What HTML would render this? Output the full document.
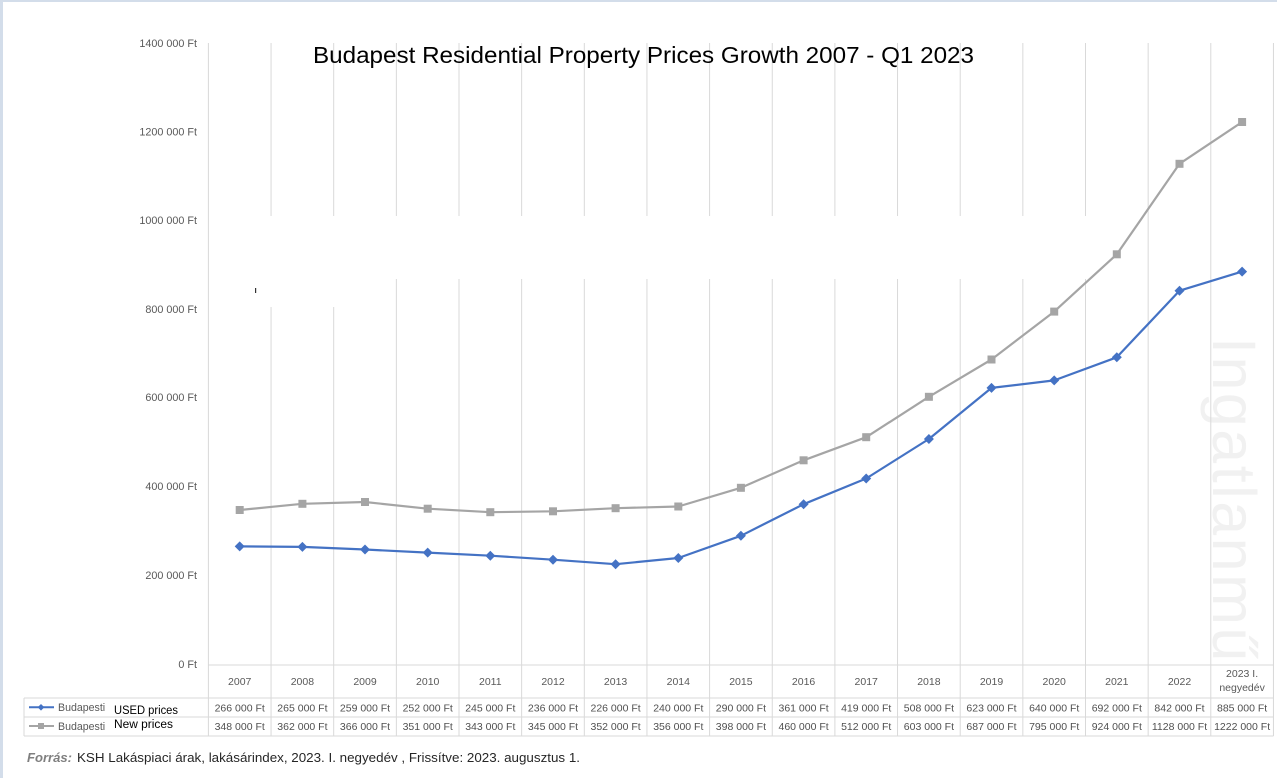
<!DOCTYPE html>
<html>
<head>
<meta charset="utf-8">
<style>
html,body{margin:0;padding:0;background:#fff;}
svg{display:block;}
text{font-family:"Liberation Sans",Arial,sans-serif;}
</style>
</head>
<body>
<svg width="1277" height="778" viewBox="0 0 1277 778" xmlns="http://www.w3.org/2000/svg">
<rect x="0" y="0" width="1277" height="778" fill="#fff"/>
<!-- page border strips -->
<rect x="0" y="0" width="3" height="778" fill="#d3ddea"/>
<rect x="0" y="0" width="1277" height="2" fill="#d3ddea"/>

<!-- watermark -->
<defs><clipPath id="wm"><rect x="1150" y="300" width="127" height="365"/></clipPath></defs>
<g clip-path="url(#wm)">
<text transform="translate(1213,337) rotate(90)" font-size="61" fill="#f1f1f1" letter-spacing="2.5">Ingatlanműhely</text>
</g>

<!-- vertical gridlines -->
<g stroke="#d9d9d9" stroke-width="1">
<line x1="208.4" y1="43" x2="208.4" y2="736"/>
<line x1="271.05" y1="43" x2="271.05" y2="736"/>
<line x1="333.7" y1="43" x2="333.7" y2="736"/>
<line x1="396.35" y1="43" x2="396.35" y2="736"/>
<line x1="459" y1="43" x2="459" y2="736"/>
<line x1="521.65" y1="43" x2="521.65" y2="736"/>
<line x1="584.3" y1="43" x2="584.3" y2="736"/>
<line x1="646.95" y1="43" x2="646.95" y2="736"/>
<line x1="709.6" y1="43" x2="709.6" y2="736"/>
<line x1="772.25" y1="43" x2="772.25" y2="736"/>
<line x1="834.9" y1="43" x2="834.9" y2="736"/>
<line x1="897.55" y1="43" x2="897.55" y2="736"/>
<line x1="960.2" y1="43" x2="960.2" y2="736"/>
<line x1="1022.85" y1="43" x2="1022.85" y2="736"/>
<line x1="1085.5" y1="43" x2="1085.5" y2="736"/>
<line x1="1148.15" y1="43" x2="1148.15" y2="736"/>
<line x1="1210.8" y1="43" x2="1210.8" y2="736"/>
<line x1="1273.45" y1="43" x2="1273.45" y2="736"/>
<!-- table horizontals -->
<line x1="208.4" y1="665" x2="1273.45" y2="665"/>
<line x1="24" y1="698" x2="1273.45" y2="698"/>
<line x1="24" y1="717" x2="1273.45" y2="717"/>
<line x1="24" y1="736" x2="1273.45" y2="736"/>
<line x1="24" y1="698" x2="24" y2="736"/>
</g>

<!-- white gap band -->
<rect x="210" y="216" width="936" height="63" fill="#fff"/>
<rect x="212" y="278" width="128" height="29" fill="#fff"/>
<rect x="255" y="288" width="1.2" height="5" fill="#333"/>

<!-- title -->
<text x="313" y="63" font-size="23.5" fill="#000" textLength="661" lengthAdjust="spacingAndGlyphs">Budapest Residential Property Prices Growth 2007 - Q1 2023</text>

<!-- y axis labels -->
<g font-size="10.8" fill="#595959" text-anchor="end">
<text x="197" y="47">1400 000 Ft</text>
<text x="197" y="135.5">1200 000 Ft</text>
<text x="197" y="224">1000 000 Ft</text>
<text x="197" y="313">800 000 Ft</text>
<text x="197" y="401">600 000 Ft</text>
<text x="197" y="490">400 000 Ft</text>
<text x="197" y="579">200 000 Ft</text>
<text x="197" y="668">0 Ft</text>
</g>

<!-- series: new prices (gray) -->
<polyline fill="none" stroke="#a5a5a5" stroke-width="2.2" stroke-linejoin="round"
points="239.7,510.0 302.4,503.8 365.0,502.0 427.7,508.7 490.3,512.2 553.0,511.3 615.6,508.2 678.3,506.5 740.9,487.8 803.6,460.3 866.2,437.2 928.9,396.8 991.5,359.5 1054.2,311.6 1116.8,254.3 1179.5,163.8 1242.1,122.0"/>
<g fill="#a5a5a5">
<rect x="235.7" y="506.0" width="8" height="8"/>
<rect x="298.4" y="499.8" width="8" height="8"/>
<rect x="361.0" y="498.0" width="8" height="8"/>
<rect x="423.7" y="504.7" width="8" height="8"/>
<rect x="486.3" y="508.2" width="8" height="8"/>
<rect x="549.0" y="507.3" width="8" height="8"/>
<rect x="611.6" y="504.2" width="8" height="8"/>
<rect x="674.3" y="502.5" width="8" height="8"/>
<rect x="736.9" y="483.8" width="8" height="8"/>
<rect x="799.6" y="456.3" width="8" height="8"/>
<rect x="862.2" y="433.2" width="8" height="8"/>
<rect x="924.9" y="392.8" width="8" height="8"/>
<rect x="987.5" y="355.5" width="8" height="8"/>
<rect x="1050.2" y="307.6" width="8" height="8"/>
<rect x="1112.8" y="250.3" width="8" height="8"/>
<rect x="1175.5" y="159.8" width="8" height="8"/>
<rect x="1238.1" y="118.0" width="8" height="8"/>
</g>

<!-- series: used prices (blue) -->
<polyline fill="none" stroke="#4472c4" stroke-width="2.2" stroke-linejoin="round"
points="239.7,546.4 302.4,546.9 365.0,549.5 427.7,552.6 490.3,555.7 553.0,559.7 615.6,564.2 678.3,558.0 740.9,535.8 803.6,504.2 866.2,478.5 928.9,439.0 991.5,387.9 1054.2,380.4 1116.8,357.3 1179.5,290.7 1242.1,271.6"/>
<g fill="#4472c4">
<path d="M239.7,541.4 l5,5 l-5,5 l-5,-5z"/>
<path d="M302.4,541.9 l5,5 l-5,5 l-5,-5z"/>
<path d="M365.0,544.5 l5,5 l-5,5 l-5,-5z"/>
<path d="M427.7,547.6 l5,5 l-5,5 l-5,-5z"/>
<path d="M490.3,550.7 l5,5 l-5,5 l-5,-5z"/>
<path d="M553.0,554.7 l5,5 l-5,5 l-5,-5z"/>
<path d="M615.6,559.2 l5,5 l-5,5 l-5,-5z"/>
<path d="M678.3,553.0 l5,5 l-5,5 l-5,-5z"/>
<path d="M740.9,530.8 l5,5 l-5,5 l-5,-5z"/>
<path d="M803.6,499.2 l5,5 l-5,5 l-5,-5z"/>
<path d="M866.2,473.5 l5,5 l-5,5 l-5,-5z"/>
<path d="M928.9,434.0 l5,5 l-5,5 l-5,-5z"/>
<path d="M991.5,382.9 l5,5 l-5,5 l-5,-5z"/>
<path d="M1054.2,375.4 l5,5 l-5,5 l-5,-5z"/>
<path d="M1116.8,352.3 l5,5 l-5,5 l-5,-5z"/>
<path d="M1179.5,285.7 l5,5 l-5,5 l-5,-5z"/>
<path d="M1242.1,266.6 l5,5 l-5,5 l-5,-5z"/>
</g>

<!-- year labels -->
<g font-size="10.5" fill="#595959" text-anchor="middle">
<text x="239.7" y="685">2007</text>
<text x="302.4" y="685">2008</text>
<text x="365.0" y="685">2009</text>
<text x="427.7" y="685">2010</text>
<text x="490.3" y="685">2011</text>
<text x="553.0" y="685">2012</text>
<text x="615.6" y="685">2013</text>
<text x="678.3" y="685">2014</text>
<text x="740.9" y="685">2015</text>
<text x="803.6" y="685">2016</text>
<text x="866.2" y="685">2017</text>
<text x="928.9" y="685">2018</text>
<text x="991.5" y="685">2019</text>
<text x="1054.2" y="685">2020</text>
<text x="1116.8" y="685">2021</text>
<text x="1179.5" y="685">2022</text>
<text x="1242.1" y="677">2023 I.</text>
<text x="1242.1" y="691">negyedév</text>
</g>

<!-- table values -->
<g font-size="10.5" fill="#505050" text-anchor="middle">
<text x="239.7" y="711.5">266 000 Ft</text>
<text x="302.4" y="711.5">265 000 Ft</text>
<text x="365.0" y="711.5">259 000 Ft</text>
<text x="427.7" y="711.5">252 000 Ft</text>
<text x="490.3" y="711.5">245 000 Ft</text>
<text x="553.0" y="711.5">236 000 Ft</text>
<text x="615.6" y="711.5">226 000 Ft</text>
<text x="678.3" y="711.5">240 000 Ft</text>
<text x="740.9" y="711.5">290 000 Ft</text>
<text x="803.6" y="711.5">361 000 Ft</text>
<text x="866.2" y="711.5">419 000 Ft</text>
<text x="928.9" y="711.5">508 000 Ft</text>
<text x="991.5" y="711.5">623 000 Ft</text>
<text x="1054.2" y="711.5">640 000 Ft</text>
<text x="1116.8" y="711.5">692 000 Ft</text>
<text x="1179.5" y="711.5">842 000 Ft</text>
<text x="1242.1" y="711.5">885 000 Ft</text>

<text x="239.7" y="730">348 000 Ft</text>
<text x="302.4" y="730">362 000 Ft</text>
<text x="365.0" y="730">366 000 Ft</text>
<text x="427.7" y="730">351 000 Ft</text>
<text x="490.3" y="730">343 000 Ft</text>
<text x="553.0" y="730">345 000 Ft</text>
<text x="615.6" y="730">352 000 Ft</text>
<text x="678.3" y="730">356 000 Ft</text>
<text x="740.9" y="730">398 000 Ft</text>
<text x="803.6" y="730">460 000 Ft</text>
<text x="866.2" y="730">512 000 Ft</text>
<text x="928.9" y="730">603 000 Ft</text>
<text x="991.5" y="730">687 000 Ft</text>
<text x="1054.2" y="730">795 000 Ft</text>
<text x="1116.8" y="730">924 000 Ft</text>
<text x="1179.5" y="730">1128 000 Ft</text>
<text x="1242.1" y="730">1222 000 Ft</text>
</g>

<!-- legend keys -->
<line x1="29" y1="707.3" x2="54" y2="707.3" stroke="#4472c4" stroke-width="2"/>
<path d="M41,704 l3.3,3.3 l-3.3,3.3 l-3.3,-3.3z" fill="#4472c4"/>
<line x1="29" y1="726" x2="54" y2="726" stroke="#a5a5a5" stroke-width="2"/>
<rect x="38" y="723" width="6" height="6" fill="#a5a5a5"/>
<g font-size="10.6" fill="#595959">
<text x="58" y="711">Budapesti</text>
<text x="58" y="730">Budapesti</text>
</g>
<text x="114" y="714" font-size="11.5" fill="#000" textLength="64" lengthAdjust="spacingAndGlyphs">USED prices</text>
<text x="114" y="728" font-size="11.5" fill="#000" textLength="59" lengthAdjust="spacingAndGlyphs">New prices</text>

<!-- footer -->
<text x="27" y="762" font-size="12.5" font-weight="bold" font-style="italic" fill="#7f7f7f" textLength="45" lengthAdjust="spacingAndGlyphs">Forrás:</text>
<text x="77" y="762" font-size="12.5" fill="#262626" textLength="503" lengthAdjust="spacingAndGlyphs">KSH Lakáspiaci árak, lakásárindex, 2023. I. negyedév , Frissítve: 2023. augusztus 1.</text>
</svg>
</body>
</html>
